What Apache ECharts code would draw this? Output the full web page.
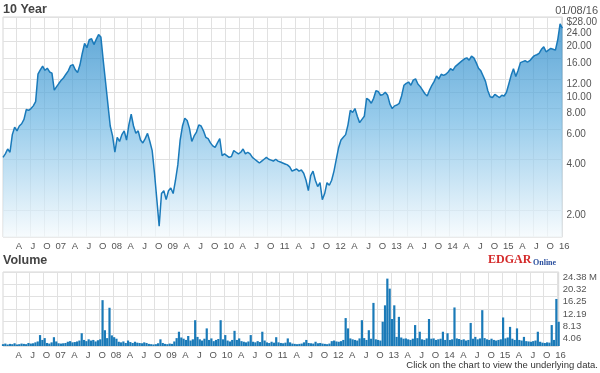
<!DOCTYPE html>
<html><head><meta charset="utf-8">
<script src="https://cdn.jsdelivr.net/npm/echarts@6/dist/echarts.min.js"></script>
<style>html,body{margin:0;padding:0;background:#fff}#c{width:600px;height:373px}</style>
</head><body><div id="c"></div>
<script>
// ---- data ----
const startYear = 2006.02;          // 01/08/06
const endYear = 2016.02;            // 01/08/16
const stepYears = 1 / 24;           // half-month samples
const prices = [
4.1,4.3,4.6,4.4,5.6,6.2,5.9,6.3,6.5,6.9,
7.9,7.8,8.0,8.3,8.8,12.8,13.6,14.3,13.5,13.9,
13.2,13.0,10.3,10.8,11.3,11.8,12.2,12.8,13.4,14.4,
14.6,13.6,13.1,14.5,17.0,19.5,18.4,20.5,20.8,19.2,
20.6,22.0,21.3,15.5,11.5,8.5,6.3,5.5,4.4,5.4,
5.1,5.6,5.9,5.2,6.4,7.4,6.3,5.7,5.9,5.2,
5.0,5.3,5.7,5.1,4.5,3.3,2.3,1.6,2.5,2.6,
2.3,2.6,2.7,2.5,3.0,3.7,5.2,6.3,7.0,6.8,
6.1,5.1,5.5,5.8,6.4,6.3,5.9,5.4,5.3,5.0,
4.8,4.7,5.0,5.3,4.2,4.3,4.2,4.1,4.15,4.5,
4.4,4.3,4.4,4.6,4.3,4.4,4.3,4.1,4.0,3.9,
3.8,3.9,4.0,4.1,4.0,3.95,3.9,4.0,3.9,3.85,
3.8,3.75,3.7,3.6,3.4,3.45,3.5,3.4,3.45,3.3,
3.0,2.6,3.2,3.4,3.0,2.75,2.9,2.3,2.5,2.9,
2.8,3.0,3.4,4.0,4.7,5.2,5.4,5.6,6.4,7.8,
7.6,8.0,7.2,6.6,6.9,7.2,9.2,9.0,8.6,9.2,
10.2,10.1,9.6,9.7,10.0,9.6,8.5,8.0,8.3,8.4,
8.6,9.5,11.0,11.3,11.5,11.0,11.8,12.0,11.2,10.8,
10.3,9.8,9.5,10.3,11.0,11.6,12.5,12.0,12.8,12.6,
12.8,13.2,13.8,13.5,14.2,14.6,15.0,15.4,15.8,16.0,
15.5,16.4,16.0,15.0,13.9,13.4,12.5,11.6,10.2,9.4,
9.3,9.7,9.5,9.3,9.6,9.5,10.0,11.2,12.6,13.8,
12.4,13.5,15.0,15.2,15.4,15.1,15.4,16.0,16.5,16.7,
17.0,18.0,18.6,17.4,17.8,18.2,18.0,17.8,20.5,25.5,
24.0
];
const volumes = [
0.6,0.8,0.5,0.7,0.6,0.9,0.5,0.6,0.8,0.7,
0.6,1.0,0.8,0.9,1.2,1.5,3.6,2.0,2.6,1.0,
0.8,1.2,2.9,1.5,0.9,0.8,0.9,1.0,1.4,1.6,
1.2,1.3,1.5,1.8,4.2,2.0,1.6,2.2,1.8,2.0,
1.5,1.9,2.2,15.1,5.2,2.6,12.6,3.5,2.9,2.4,
1.4,1.2,1.5,1.0,1.8,1.3,1.0,1.4,1.1,1.0,
0.9,1.2,1.0,0.7,0.6,0.5,0.6,0.9,2.2,1.0,
0.7,0.6,0.8,0.7,1.5,2.6,4.7,2.8,2.4,2.0,
3.3,1.8,2.2,8.5,3.0,2.2,1.8,2.4,5.8,2.0,
2.5,1.6,2.0,2.3,8.5,2.2,3.6,1.8,1.5,2.0,
5.0,2.0,2.5,1.6,1.4,1.2,1.5,3.6,1.4,1.2,
1.6,1.3,4.7,1.8,1.2,1.0,1.4,1.1,2.9,1.2,
1.0,0.9,1.1,2.5,1.2,0.8,0.7,0.6,0.7,0.8,
1.2,2.0,1.0,0.9,0.8,1.4,0.9,1.0,0.8,0.7,
0.6,0.8,1.6,1.8,1.5,1.4,1.6,2.0,9.2,5.8,
2.5,2.2,2.0,1.8,2.5,8.5,2.6,2.0,5.2,2.4,
14.2,2.2,2.0,1.8,8.0,13.4,22.2,18.9,8.9,13.4,
3.0,9.6,2.8,2.4,2.5,2.2,2.0,2.4,6.9,2.6,
4.7,2.2,2.0,2.5,8.9,2.4,2.5,2.0,2.2,2.4,
4.7,2.0,4.2,2.0,2.2,12.7,2.5,2.3,2.0,2.2,
1.8,2.0,7.6,2.4,3.0,2.2,2.5,11.8,2.6,2.2,
2.0,2.4,2.0,1.8,2.0,2.2,9.4,2.5,2.8,6.3,
2.4,2.0,5.8,2.0,1.8,3.0,1.6,1.5,1.4,1.6,
1.8,4.7,1.4,1.1,1.0,1.2,1.1,6.9,2.0,15.5,
8.0
];
const xTickLabels = ['A','J','O','07','A','J','O','08','A','J','O','09','A','J','O','10',
  'A','J','O','11','A','J','O','12','A','J','O','13','A','J','O','14','A','J','O','15','A','J','O','16'];
const xFirstTick = 2006.25, xTickStep = 0.25;
const priceTicks = [2, 4, 6, 8, 10, 12, 16, 20, 24, 28];
const volumeTicks = [4.06, 8.13, 12.19, 16.25, 20.32, 24.38];

// ---- build ----
const xTickValues = xTickLabels.map((_, k) => xFirstTick + k * xTickStep);
const priceData = prices.map((p, i) => [startYear + i * stepYears, p]);
const volumeData = volumes.map((v, i) => [startYear + i * stepYears, v]);
const xLabelFmt = v => { const k = Math.round((v - xFirstTick) / xTickStep); return xTickLabels[k] || ''; };
const FONT = 'Liberation Sans, Arial, sans-serif';
const gridLine = { show: true, lineStyle: { color: '#e1e1e1', width: 1 } };

const chart = echarts.init(document.getElementById('c'), null, { renderer: 'canvas' });
chart.setOption({
  animation: false,
  backgroundColor: '#fff',
  grid: [
    { left: 3, right: 36, top: 17, height: 220, show: true, borderColor: '#d6d6d6', borderWidth: 1 },
    { left: 3, right: 36, top: 272, height: 74, show: true, borderColor: '#d6d6d6', borderWidth: 1 }
  ],
  xAxis: [0, 1].map(g => ({
    type: 'value', gridIndex: g, min: startYear, max: endYear,
    axisLine: { show: false }, axisTick: { show: false, customValues: xTickValues },
    splitLine: gridLine,
    axisLabel: { customValues: xTickValues, formatter: xLabelFmt, color: '#555', fontSize: 9.5,
      fontFamily: FONT, margin: 4, padding: [0, 0, 0, 6] }
  })),
  yAxis: [
    { type: 'log', gridIndex: 0, position: 'right', min: 1.38, max: 28,
      axisLine: { show: false }, axisTick: { show: false, customValues: priceTicks },
      splitLine: gridLine,
      axisLabel: { customValues: priceTicks, color: '#555', fontSize: 10, fontFamily: FONT,
        margin: 4, verticalAlign: 'top',
        formatter: v => { const r = Math.round(v); return (r === 28 ? '$' : '') + r.toFixed(2); } } },
    { type: 'value', gridIndex: 1, position: 'right', min: 0, max: 24.38,
      axisLine: { show: false }, axisTick: { show: false, customValues: [0].concat(volumeTicks) },
      splitLine: gridLine,
      axisLabel: { customValues: volumeTicks, color: '#555', fontSize: 9.5, fontFamily: FONT,
        margin: 4, verticalAlign: 'top',
        formatter: v => v.toFixed(2) + (Math.abs(v - 24.38) < 0.01 ? ' M' : '') } }
  ],
  series: [
    { type: 'line', xAxisIndex: 0, yAxisIndex: 0, data: priceData, showSymbol: false,
      lineStyle: { color: '#1a7aba', width: 1.5 },
      areaStyle: { origin: 'start', color: new echarts.graphic.LinearGradient(0, 0, 0, 1, [
        { offset: 0, color: '#1a80c4' }, { offset: 0.45, color: '#6cb6e3' }, { offset: 1, color: '#f4fafd' }]) } },
    { type: 'bar', xAxisIndex: 1, yAxisIndex: 1, data: volumeData, barWidth: 2.2,
      itemStyle: { color: '#1a7ab8' } }
  ],
  graphic: [
    { type: 'text', left: 3, top: 3, style: { text: '10 Year', font: 'bold 12.5px ' + FONT, fill: '#444' } },
    { type: 'text', right: 2, top: 5, style: { text: '01/08/16', font: '11px ' + FONT, fill: '#555' } },
    { type: 'text', left: 3, top: 254, style: { text: 'Volume', font: 'bold 12.5px ' + FONT, fill: '#444' } },
    { type: 'text', left: 488, top: 254, style: { text: 'EDGAR', font: 'bold 12px Liberation Serif, serif', fill: '#d42a2a' } },
    { type: 'text', left: 533, top: 259, style: { text: 'Online', font: 'bold 8px Liberation Serif, serif', fill: '#2a4f9e' } },
    { type: 'text', right: 2, top: 360, style: { text: 'Click on the chart to view the underlying data.', font: '9.5px ' + FONT, fill: '#333' } }
  ]
});
</script></body></html>
